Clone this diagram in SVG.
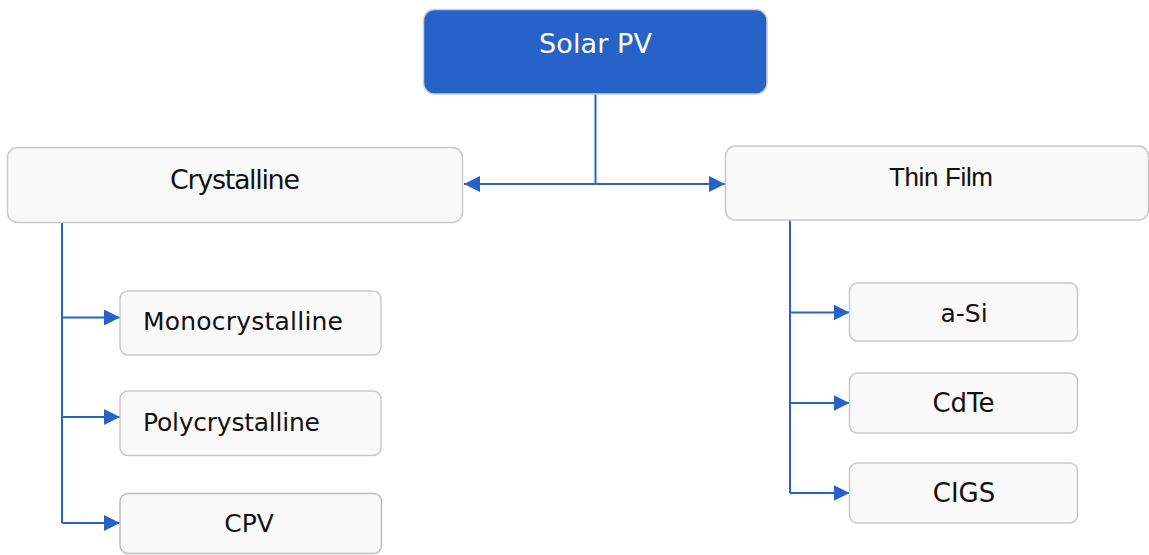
<svg xmlns="http://www.w3.org/2000/svg" width="1149" height="555" viewBox="0 0 1149 555">
  <style>
    .box { fill: #f9f9f9; stroke: #c9c9c9; stroke-width: 1.5; }
    .root { fill: #2762c8; stroke: #cfcfcf; stroke-width: 1.5; }
    .lbl { font-family: "DejaVu Sans", "Liberation Sans", sans-serif; font-size: 25px; fill: #111; }
    .big { font-size: 27px; }
    .seg { font-family: "Liberation Sans", "DejaVu Sans", sans-serif; font-size: 26px; fill: #111; }
    .wire { fill: none; stroke: #2762c8; stroke-width: 2; }
  </style>
  <defs>
    <marker id="arr" markerWidth="16" markerHeight="16" refX="16" refY="8" orient="auto" markerUnits="userSpaceOnUse">
      <path d="M0,0 L16,8 L0,16 Z" fill="#2762c8"/>
    </marker>
  </defs>

  <rect width="1149" height="555" fill="#ffffff"/>

  <!-- connectors -->
  <g id="connectors">
    <path class="wire" d="M595.5,94 V184"/>
    <path class="wire" d="M595.5,184 H464" marker-end="url(#arr)"/>
    <path class="wire" d="M595.5,184 H725" marker-end="url(#arr)"/>
    <path class="wire" d="M62,222 V523"/>
    <path class="wire" d="M62,317.5 H120" marker-end="url(#arr)"/>
    <path class="wire" d="M62,417 H120" marker-end="url(#arr)"/>
    <path class="wire" d="M62,523 H120" marker-end="url(#arr)"/>
    <path class="wire" d="M790,220 V493"/>
    <path class="wire" d="M790,312.5 H849.5" marker-end="url(#arr)"/>
    <path class="wire" d="M790,403 H849.5" marker-end="url(#arr)"/>
    <path class="wire" d="M790,493 H849.5" marker-end="url(#arr)"/>
  </g>

  <g id="solar-pv">
    <rect class="root" x="423.5" y="9.5" width="343.5" height="84.5" rx="11"/>
    <text x="595.5" y="53" text-anchor="middle" class="lbl big" style="fill:#ffffff" textLength="113">Solar PV</text>
  </g>

  <g id="crystalline">
    <rect class="box" x="7.5" y="147.5" width="455" height="75" rx="10"/>
    <text x="235" y="189" text-anchor="middle" class="lbl big" textLength="130">Crystalline</text>
  </g>

  <g id="thin-film">
    <rect class="box" x="725.5" y="146" width="423" height="74" rx="10"/>
    <text x="941" y="186" text-anchor="middle" class="seg" textLength="104">Thin Film</text>
  </g>

  <g id="monocrystalline">
    <rect class="box" x="120" y="291" width="261" height="64" rx="8"/>
    <text x="143" y="330" class="lbl" textLength="200">Monocrystalline</text>
  </g>

  <g id="polycrystalline">
    <rect class="box" x="120" y="391" width="261" height="64.5" rx="8"/>
    <text x="143" y="430.5" class="lbl" textLength="177">Polycrystalline</text>
  </g>

  <g id="cpv">
    <rect class="box" x="120" y="493.5" width="261.5" height="60" rx="8" style="stroke:#bdbdbd"/>
    <text x="249" y="532" text-anchor="middle" class="lbl" font-size="26">CPV</text>
  </g>

  <g id="a-si">
    <rect class="box" x="849.5" y="283" width="228" height="58" rx="8"/>
    <text x="964" y="321.5" text-anchor="middle" class="lbl">a-Si</text>
  </g>

  <g id="cdte">
    <rect class="box" x="849.5" y="373" width="228" height="60" rx="8"/>
    <text x="963.5" y="411.5" text-anchor="middle" class="lbl" style="font-size:26px">CdTe</text>
  </g>

  <g id="cigs">
    <rect class="box" x="849.5" y="463" width="228" height="60" rx="8"/>
    <text x="964" y="501.5" text-anchor="middle" class="lbl" style="font-size:26px">CIGS</text>
  </g>
</svg>
